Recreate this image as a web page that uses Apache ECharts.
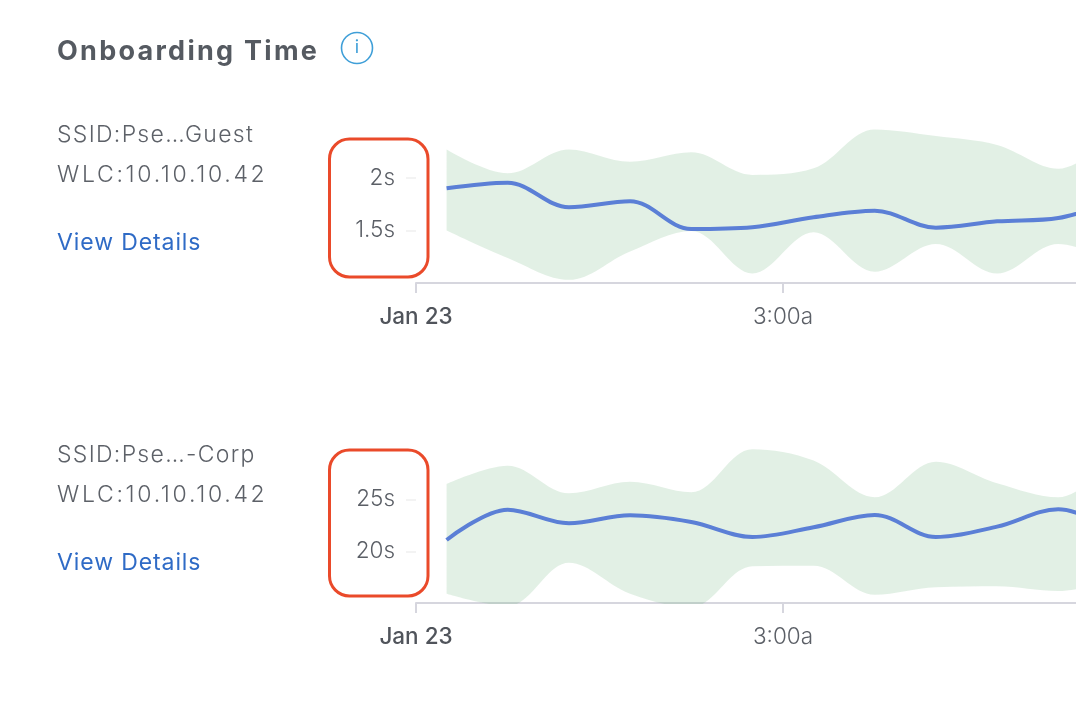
<!DOCTYPE html>
<html>
<head>
<meta charset="utf-8">
<title>Onboarding Time</title>
<script src="https://cdn.jsdelivr.net/npm/echarts@6/dist/echarts.min.js"></script>
<style>
  html, body { margin: 0; padding: 0; background: #fff; }
  #chart { position: absolute; left: 0; top: 0; width: 1076px; height: 704px; }
  .txt { position: absolute; left: 57px; white-space: nowrap; font-family: Inter, sans-serif; line-height: 30px; }
  .title { top: 36px; font-size: 27px; font-weight: 700; letter-spacing: 2.27px; color: #555a61; }
  .ssid { font-size: 23px; font-weight: 300; letter-spacing: 1.3px; color: #5d6168; }
  .wlc { font-size: 23px; font-weight: 300; letter-spacing: 2.7px; color: #5d6168; }
  .link { font-size: 23px; font-weight: 400; letter-spacing: 0.9px; color: #2f6bc6; }
</style>
</head>
<body>
<div id="chart"></div>
<div class="txt title">Onboarding Time</div>
<div class="txt ssid" style="top:119px">SSID:Pse…Guest</div>
<div class="txt wlc" style="top:159px">WLC:10.10.10.42</div>
<div class="txt link" style="top:227px">View Details</div>
<div class="txt ssid" style="top:439px">SSID:Pse…-Corp</div>
<div class="txt wlc" style="top:479px">WLC:10.10.10.42</div>
<div class="txt link" style="top:547px">View Details</div>
<script>
// hours after midnight, one sample every 30 min
const hours = [0.25, 0.75, 1.25, 1.75, 2.25, 2.75, 3.25, 3.75, 4.25, 4.75, 5.25, 5.75];
const xTicks = [0, 3];
const xTickLabels = ['{day|Jan 23}', '3:00a'];

// first chart, seconds
const guestAvg = [1.90, 1.953, 1.72, 1.777, 1.513, 1.53, 1.625, 1.687, 1.526, 1.586, 1.618, 1.80];
const guestHigh = [2.27, 2.043, 2.27, 2.153, 2.242, 2.027, 2.09, 2.46, 2.397, 2.312, 2.086, 2.45];
const guestLow = [1.50, 1.238, 1.03, 1.30, 1.494, 1.09, 1.482, 1.107, 1.371, 1.09, 1.371, 1.17];
const guestTicks = [1.5, 2];

// second chart, seconds
const corpAvg = [21.10, 24.03, 22.72, 23.49, 22.84, 21.39, 22.33, 23.52, 21.39, 22.39, 24.07, 21.8];
const corpHigh = [26.52, 28.29, 25.62, 26.74, 25.72, 29.88, 28.78, 25.23, 28.68, 26.59, 25.23, 29.5];
const corpLow = [15.90, 14.7, 18.90, 15.90, 14.6, 18.55, 18.61, 15.80, 16.52, 16.62, 16.16, 17.42];
const corpTicks = [20, 25];

const textColor = '#5b5f66';
const axisColor = '#d6d6de';
const gridColor = 'rgba(120,130,125,0.13)';

function xAxis(gridIndex) {
    return {
        gridIndex,
        type: 'value',
        min: 0,
        max: 5.395,
        splitLine: { show: false },
        axisLine: { lineStyle: { color: axisColor, width: 2 } },
        axisTick: { customValues: xTicks, length: 10, lineStyle: { color: axisColor, width: 2 } },
        axisLabel: {
            customValues: xTicks,
            margin: 23,
            color: textColor,
            fontFamily: 'Inter',
            fontSize: 22.5,
            fontWeight: 300,
            formatter: v => xTickLabels[xTicks.indexOf(v)],
            rich: { day: { fontFamily: 'Inter', fontSize: 22.5, fontWeight: 500, color: '#50545b' } }
        }
    };
}

function yAxis(gridIndex, min, max, interval, ticks) {
    return {
        gridIndex,
        type: 'value',
        min,
        max,
        interval,
        axisLine: { show: false },
        axisTick: { customValues: ticks, length: 10, lineStyle: { color: '#f3f3f3', width: 2 } },
        axisLabel: {
            customValues: ticks,
            margin: 21,
            color: textColor,
            fontFamily: 'Inter',
            fontSize: 22.5,
            fontWeight: 300,
            formatter: '{value}s'
        },
        splitLine: { showMinLine: false, showMaxLine: false, lineStyle: { color: gridColor, width: 2 } }
    };
}

function series(index, name, avg, high, low) {
    // value first so the stack goes on y, both axes being numeric
    const pairs = arr => hours.map((h, i) => [arr[i], h]);
    const common = {
        type: 'line',
        xAxisIndex: index,
        yAxisIndex: index,
        encode: { x: 1, y: 0 },
        smooth: 0.35,
        symbol: 'none'
    };
    return [
        { ...common, name: name + ' low', stack: name, lineStyle: { opacity: 0 }, data: pairs(low) },
        {
            ...common,
            name: name + ' range',
            stack: name,
            lineStyle: { opacity: 0 },
            areaStyle: { color: 'rgba(110,180,125,0.2)', opacity: 1 },
            data: pairs(high.map((v, i) => v - low[i]))
        },
        { ...common, name: name + ' avg', lineStyle: { color: '#5b7fd6', width: 4 }, data: pairs(avg) }
    ];
}

// hand drawn red boxes around the y labels
function redBox(y, height) {
    return {
        type: 'rect',
        shape: { x: 329.5, y, width: 98.5, height, r: 20 },
        style: { fill: 'none', stroke: '#ea4a2a', lineWidth: 3 },
        z: 10
    };
}

const chart = echarts.init(document.getElementById('chart'));
chart.setOption({
    animation: false,
    grid: [
        { left: 416, right: 0, top: 125.2, height: 157.8 },
        { left: 416, right: 0, top: 448, height: 155 }
    ],
    xAxis: [xAxis(0), xAxis(1)],
    yAxis: [yAxis(0, 1, 2.5, 0.5, guestTicks), yAxis(1, 15, 30, 5, corpTicks)],
    series: [
        ...series(0, 'guest', guestAvg, guestHigh, guestLow),
        ...series(1, 'corp', corpAvg, corpHigh, corpLow)
    ],
    graphic: [
        redBox(139, 138),
        redBox(450, 146),
        {
            type: 'circle',
            shape: { cx: 357, cy: 48, r: 15.5 },
            style: { fill: 'none', stroke: '#3f9fd8', lineWidth: 1.6 }
        },
        {
            type: 'text',
            x: 357,
            y: 48,
            style: { text: 'i', fill: '#3f9fd8', font: '400 18px Inter', align: 'center', verticalAlign: 'middle' }
        }
    ]
});
</script>
</body>
</html>
